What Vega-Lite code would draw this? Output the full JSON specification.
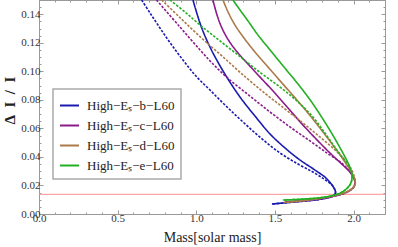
{
  "$schema": "https://vega.github.io/schema/vega-lite/v6.json",
  "width": 346,
  "height": 214,
  "autosize": {"type": "none"},
  "padding": {"left": 39, "top": 0, "right": 13, "bottom": 33},
  "background": "white",
  "config": {
    "view": {"stroke": "#999", "strokeWidth": 1},
    "font": "Liberation Serif",
    "axis": {"labelOverlap": false}
  },
  "datasets": {
    "curves": [
        {"s":"b","t":"s","i":1,"x":0.979,"y":0.1500},
        {"s":"b","t":"s","i":2,"x":1.030,"y":0.1318},
        {"s":"b","t":"s","i":3,"x":1.093,"y":0.1157},
        {"s":"b","t":"s","i":4,"x":1.182,"y":0.0981},
        {"s":"b","t":"s","i":5,"x":1.278,"y":0.0820},
        {"s":"b","t":"s","i":6,"x":1.373,"y":0.0687},
        {"s":"b","t":"s","i":7,"x":1.469,"y":0.0561},
        {"s":"b","t":"s","i":8,"x":1.564,"y":0.0463},
        {"s":"b","t":"s","i":9,"x":1.659,"y":0.0379},
        {"s":"b","t":"s","i":10,"x":1.755,"y":0.0308},
        {"s":"b","t":"s","i":11,"x":1.825,"y":0.0252},
        {"s":"b","t":"s","i":12,"x":1.863,"y":0.0203},
        {"s":"b","t":"s","i":13,"x":1.882,"y":0.0168},
        {"s":"b","t":"s","i":14,"x":1.885,"y":0.0147},
        {"s":"b","t":"s","i":15,"x":1.869,"y":0.0126},
        {"s":"b","t":"s","i":16,"x":1.786,"y":0.0103},
        {"s":"b","t":"s","i":17,"x":1.659,"y":0.0088},
        {"s":"b","t":"s","i":18,"x":1.481,"y":0.0070},

        {"s":"b","t":"d","i":1,"x":0.653,"y":0.1500},
        {"s":"b","t":"d","i":2,"x":0.706,"y":0.1409},
        {"s":"b","t":"d","i":3,"x":0.769,"y":0.1304},
        {"s":"b","t":"d","i":4,"x":0.839,"y":0.1192},
        {"s":"b","t":"d","i":5,"x":0.915,"y":0.1080},
        {"s":"b","t":"d","i":6,"x":0.998,"y":0.0967},
        {"s":"b","t":"d","i":7,"x":1.087,"y":0.0869},
        {"s":"b","t":"d","i":8,"x":1.189,"y":0.0757},
        {"s":"b","t":"d","i":9,"x":1.297,"y":0.0645},
        {"s":"b","t":"d","i":10,"x":1.411,"y":0.0533},
        {"s":"b","t":"d","i":11,"x":1.532,"y":0.0428},
        {"s":"b","t":"d","i":12,"x":1.647,"y":0.0350},
        {"s":"b","t":"d","i":13,"x":1.742,"y":0.0294},
        {"s":"b","t":"d","i":14,"x":1.812,"y":0.0245},
        {"s":"b","t":"d","i":15,"x":1.863,"y":0.0203},
        {"s":"b","t":"d","i":16,"x":1.882,"y":0.0168},
        {"s":"b","t":"d","i":17,"x":1.885,"y":0.0147},
        {"s":"b","t":"d","i":18,"x":1.869,"y":0.0126},
        {"s":"b","t":"d","i":19,"x":1.786,"y":0.0103},
        {"s":"b","t":"d","i":20,"x":1.659,"y":0.0088},
        {"s":"b","t":"d","i":21,"x":1.481,"y":0.0070},

        {"s":"c","t":"s","i":1,"x":1.106,"y":0.1500},
        {"s":"c","t":"s","i":2,"x":1.132,"y":0.1395},
        {"s":"c","t":"s","i":3,"x":1.163,"y":0.1304},
        {"s":"c","t":"s","i":4,"x":1.208,"y":0.1213},
        {"s":"c","t":"s","i":5,"x":1.265,"y":0.1129},
        {"s":"c","t":"s","i":6,"x":1.335,"y":0.1044},
        {"s":"c","t":"s","i":7,"x":1.411,"y":0.0953},
        {"s":"c","t":"s","i":8,"x":1.494,"y":0.0855},
        {"s":"c","t":"s","i":9,"x":1.583,"y":0.0743},
        {"s":"c","t":"s","i":10,"x":1.678,"y":0.0624},
        {"s":"c","t":"s","i":11,"x":1.774,"y":0.0512},
        {"s":"c","t":"s","i":12,"x":1.863,"y":0.0414},
        {"s":"c","t":"s","i":13,"x":1.932,"y":0.0343},
        {"s":"c","t":"s","i":14,"x":1.977,"y":0.0294},
        {"s":"c","t":"s","i":15,"x":2.002,"y":0.0252},
        {"s":"c","t":"s","i":16,"x":2.009,"y":0.0217},
        {"s":"c","t":"s","i":17,"x":1.996,"y":0.0182},
        {"s":"c","t":"s","i":18,"x":1.945,"y":0.0147},
        {"s":"c","t":"s","i":19,"x":1.850,"y":0.0119},
        {"s":"c","t":"s","i":20,"x":1.723,"y":0.0098},
        {"s":"c","t":"s","i":21,"x":1.564,"y":0.0084},

        {"s":"c","t":"d","i":1,"x":0.747,"y":0.1500},
        {"s":"c","t":"d","i":2,"x":0.896,"y":0.1311},
        {"s":"c","t":"d","i":3,"x":1.024,"y":0.1150},
        {"s":"c","t":"d","i":4,"x":1.119,"y":0.1037},
        {"s":"c","t":"d","i":5,"x":1.214,"y":0.0939},
        {"s":"c","t":"d","i":6,"x":1.341,"y":0.0827},
        {"s":"c","t":"d","i":7,"x":1.469,"y":0.0715},
        {"s":"c","t":"d","i":8,"x":1.596,"y":0.0610},
        {"s":"c","t":"d","i":9,"x":1.723,"y":0.0512},
        {"s":"c","t":"d","i":10,"x":1.830,"y":0.0428},
        {"s":"c","t":"d","i":11,"x":1.932,"y":0.0350},
        {"s":"c","t":"d","i":12,"x":1.977,"y":0.0294},
        {"s":"c","t":"d","i":13,"x":2.002,"y":0.0252},
        {"s":"c","t":"d","i":14,"x":2.009,"y":0.0217},
        {"s":"c","t":"d","i":15,"x":1.996,"y":0.0182},
        {"s":"c","t":"d","i":16,"x":1.945,"y":0.0147},
        {"s":"c","t":"d","i":17,"x":1.850,"y":0.0119},
        {"s":"c","t":"d","i":18,"x":1.723,"y":0.0098},
        {"s":"c","t":"d","i":19,"x":1.564,"y":0.0084},

        {"s":"d","t":"s","i":1,"x":1.170,"y":0.1500},
        {"s":"d","t":"s","i":2,"x":1.202,"y":0.1416},
        {"s":"d","t":"s","i":3,"x":1.246,"y":0.1325},
        {"s":"d","t":"s","i":4,"x":1.303,"y":0.1234},
        {"s":"d","t":"s","i":5,"x":1.373,"y":0.1136},
        {"s":"d","t":"s","i":6,"x":1.456,"y":0.1030},
        {"s":"d","t":"s","i":7,"x":1.545,"y":0.0918},
        {"s":"d","t":"s","i":8,"x":1.640,"y":0.0799},
        {"s":"d","t":"s","i":9,"x":1.736,"y":0.0673},
        {"s":"d","t":"s","i":10,"x":1.825,"y":0.0547},
        {"s":"d","t":"s","i":11,"x":1.901,"y":0.0435},
        {"s":"d","t":"s","i":12,"x":1.958,"y":0.0343},
        {"s":"d","t":"s","i":13,"x":1.990,"y":0.0287},
        {"s":"d","t":"s","i":14,"x":2.009,"y":0.0238},
        {"s":"d","t":"s","i":15,"x":2.009,"y":0.0203},
        {"s":"d","t":"s","i":16,"x":1.983,"y":0.0172},
        {"s":"d","t":"s","i":17,"x":1.932,"y":0.0144},
        {"s":"d","t":"s","i":18,"x":1.786,"y":0.0109},
        {"s":"d","t":"s","i":19,"x":1.659,"y":0.0091},
        {"s":"d","t":"s","i":20,"x":1.558,"y":0.0081},

        {"s":"d","t":"d","i":1,"x":0.780,"y":0.1500},
        {"s":"d","t":"d","i":2,"x":0.896,"y":0.1377},
        {"s":"d","t":"d","i":3,"x":1.024,"y":0.1243},
        {"s":"d","t":"d","i":4,"x":1.170,"y":0.1101},
        {"s":"d","t":"d","i":5,"x":1.320,"y":0.0953},
        {"s":"d","t":"d","i":6,"x":1.443,"y":0.0841},
        {"s":"d","t":"d","i":7,"x":1.564,"y":0.0736},
        {"s":"d","t":"d","i":8,"x":1.678,"y":0.0638},
        {"s":"d","t":"d","i":9,"x":1.786,"y":0.0540},
        {"s":"d","t":"d","i":10,"x":1.882,"y":0.0449},
        {"s":"d","t":"d","i":11,"x":1.945,"y":0.0379},
        {"s":"d","t":"d","i":12,"x":1.983,"y":0.0322},
        {"s":"d","t":"d","i":13,"x":2.005,"y":0.0262},
        {"s":"d","t":"d","i":14,"x":2.009,"y":0.0238},
        {"s":"d","t":"d","i":15,"x":2.009,"y":0.0203},
        {"s":"d","t":"d","i":16,"x":1.983,"y":0.0172},
        {"s":"d","t":"d","i":17,"x":1.932,"y":0.0144},
        {"s":"d","t":"d","i":18,"x":1.786,"y":0.0109},
        {"s":"d","t":"d","i":19,"x":1.659,"y":0.0091},
        {"s":"d","t":"d","i":20,"x":1.558,"y":0.0081},

        {"s":"e","t":"s","i":1,"x":1.233,"y":0.1500},
        {"s":"e","t":"s","i":2,"x":1.278,"y":0.1430},
        {"s":"e","t":"s","i":3,"x":1.329,"y":0.1353},
        {"s":"e","t":"s","i":4,"x":1.392,"y":0.1255},
        {"s":"e","t":"s","i":5,"x":1.469,"y":0.1150},
        {"s":"e","t":"s","i":6,"x":1.558,"y":0.1030},
        {"s":"e","t":"s","i":7,"x":1.647,"y":0.0911},
        {"s":"e","t":"s","i":8,"x":1.729,"y":0.0792},
        {"s":"e","t":"s","i":9,"x":1.805,"y":0.0666},
        {"s":"e","t":"s","i":10,"x":1.875,"y":0.0540},
        {"s":"e","t":"s","i":11,"x":1.932,"y":0.0428},
        {"s":"e","t":"s","i":12,"x":1.971,"y":0.0343},
        {"s":"e","t":"s","i":13,"x":1.990,"y":0.0273},
        {"s":"e","t":"s","i":14,"x":1.983,"y":0.0217},
        {"s":"e","t":"s","i":15,"x":1.951,"y":0.0172},
        {"s":"e","t":"s","i":16,"x":1.901,"y":0.0140},
        {"s":"e","t":"s","i":17,"x":1.818,"y":0.0119},
        {"s":"e","t":"s","i":18,"x":1.691,"y":0.0105},
        {"s":"e","t":"s","i":19,"x":1.551,"y":0.0098},

        {"s":"e","t":"d","i":1,"x":0.833,"y":0.1500},
        {"s":"e","t":"d","i":2,"x":0.928,"y":0.1416},
        {"s":"e","t":"d","i":3,"x":1.024,"y":0.1325},
        {"s":"e","t":"d","i":4,"x":1.151,"y":0.1213},
        {"s":"e","t":"d","i":5,"x":1.289,"y":0.1094},
        {"s":"e","t":"d","i":6,"x":1.411,"y":0.0988},
        {"s":"e","t":"d","i":7,"x":1.532,"y":0.0890},
        {"s":"e","t":"d","i":8,"x":1.640,"y":0.0792},
        {"s":"e","t":"d","i":9,"x":1.736,"y":0.0687},
        {"s":"e","t":"d","i":10,"x":1.818,"y":0.0568},
        {"s":"e","t":"d","i":11,"x":1.875,"y":0.0477},
        {"s":"e","t":"d","i":12,"x":1.932,"y":0.0393},
        {"s":"e","t":"d","i":13,"x":1.971,"y":0.0336},
        {"s":"e","t":"d","i":14,"x":1.990,"y":0.0273},
        {"s":"e","t":"d","i":15,"x":1.983,"y":0.0217},
        {"s":"e","t":"d","i":16,"x":1.951,"y":0.0172},
        {"s":"e","t":"d","i":17,"x":1.901,"y":0.0140},
        {"s":"e","t":"d","i":18,"x":1.818,"y":0.0119},
        {"s":"e","t":"d","i":19,"x":1.691,"y":0.0105},
        {"s":"e","t":"d","i":20,"x":1.551,"y":0.0098}
    ]
  },
  "resolve": {"axis": {"x": "independent", "y": "independent"}},
  "layer": [
    {
      "data": {"values": [{"v": 0.0138}]},
      "mark": {"type": "rule", "color": "#ff8f8f", "strokeWidth": 1},
      "encoding": {"y": {"field": "v", "type": "quantitative", "axis": null, "scale": {"domain": [0, 0.15], "nice": false, "zero": false}}}
    },
    {
      "data": {"name": "curves"},
      "mark": {"type": "line", "strokeWidth": 1.6, "clip": true, "interpolate": "catmull-rom"},
      "encoding": {
        "x": {
          "field": "x", "type": "quantitative",
          "scale": {"domain": [0, 2.2], "nice": false, "zero": false},
          "axis": {
            "orient": "bottom",
            "title": "Mass[solar mass]",
            "values": [0,0.1,0.2,0.3,0.4,0.5,0.6,0.7,0.8,0.9,1.0,1.1,1.2,1.3,1.4,1.5,1.6,1.7,1.8,1.9,2.0,2.1,2.2],
            "labelExpr": "abs(datum.value*2-round(datum.value*2))<1e-6 ? format(datum.value,'.1f') : ''",
            "labelFontSize": {"condition": {"test": "abs(datum.value*2-round(datum.value*2))<1e-6", "value": 11}, "value": 0},
            "tickSize": {"condition": {"test": "abs(datum.value*2-round(datum.value*2))<1e-6", "value": -4}, "value": -2},
            "tickColor": "#999",
            "domain": false,
            "grid": false,
            "labelFlush": false,
            "labelOverlap": false,
            "labelPadding": 2,
            "labelFont": "Liberation Serif",
            "labelColor": "#333",
            "titleFont": "Liberation Serif",
            "titleFontSize": 14,
            "titleFontWeight": "normal",
            "titleColor": "#222",
            "titlePadding": 7
          }
        },
        "y": {
          "field": "y", "type": "quantitative",
          "scale": {"domain": [0, 0.15], "nice": false, "zero": false},
          "axis": {
            "orient": "left",
            "title": "\u0394\u2002I\u2002/\u2002I",
            "titleX": -22,
            "titleY": 100,
            "values": [0,0.005,0.01,0.015,0.02,0.025,0.03,0.035,0.04,0.045,0.05,0.055,0.06,0.065,0.07,0.075,0.08,0.085,0.09,0.095,0.1,0.105,0.11,0.115,0.12,0.125,0.13,0.135,0.14,0.145,0.15],
            "labelExpr": "abs(datum.value*50-round(datum.value*50))<1e-6 ? format(datum.value,'.2f') : ''",
            "labelFontSize": {"condition": {"test": "abs(datum.value*50-round(datum.value*50))<1e-6", "value": 11}, "value": 0},
            "tickSize": {"condition": {"test": "abs(datum.value*50-round(datum.value*50))<1e-6", "value": -4}, "value": -2},
            "tickColor": "#999",
            "domain": false,
            "grid": false,
            "labelFlush": false,
            "labelOverlap": false,
            "labelPadding": 3,
            "labelFont": "Liberation Serif",
            "labelColor": "#333",
            "titleFont": "Liberation Serif",
            "titleFontSize": 15,
            "titleFontWeight": "bold",
            "titleColor": "#222"
          }
        },
        "color": {
          "field": "s", "type": "nominal",
          "scale": {"domain": ["b","c","d","e"], "range": ["#1a1ab0", "#8b1a8b", "#ab7a4a", "#22b022"]},
          "legend": {
            "title": null,
            "orient": "none",
            "legendX": 14,
            "legendY": 89,
            "labelExpr": "'High\u2212E\u209b\u2212' + datum.label + '\u2212L60\u00a0\u00a0\u00a0\u00a0\u00a0\u00a0\u00a0\u00a0\u00a0'",
            "symbolType": "stroke",
            "symbolSize": 361,
            "symbolStrokeWidth": 2,
            "labelFont": "Liberation Serif",
            "labelFontSize": 13,
            "labelColor": "#222",
            "labelOffset": 7,
            "rowPadding": 2,
            "padding": 6,
            "strokeColor": "#aaa",
            "fillColor": "white",
            "encode": {"legend": {"update": {"strokeWidth": {"value": 1.5}}}}
          }
        },
        "strokeDash": {
          "field": "t", "type": "nominal",
          "scale": {"domain": ["s","d"], "range": [[1,0],[2.5,1.5]]},
          "legend": null
        },
        "order": {"field": "i", "type": "quantitative"}
      }
    },
    {
      "data": {"name": "curves"},
      "mark": {"type": "line", "opacity": 0, "clip": true},
      "encoding": {
        "x": {
          "field": "x", "type": "quantitative",
          "scale": {"domain": [0, 2.2], "nice": false, "zero": false},
          "axis": {
            "orient": "top",
            "title": null,
            "labels": false,
            "values": [0,0.1,0.2,0.3,0.4,0.5,0.6,0.7,0.8,0.9,1.0,1.1,1.2,1.3,1.4,1.5,1.6,1.7,1.8,1.9,2.0,2.1,2.2],
            "tickSize": {"condition": {"test": "abs(datum.value*2-round(datum.value*2))<1e-6", "value": -4}, "value": -2},
            "tickColor": "#999",
            "domain": false,
            "grid": false
          }
        },
        "y": {
          "field": "y", "type": "quantitative",
          "scale": {"domain": [0, 0.15], "nice": false, "zero": false},
          "axis": {
            "orient": "right",
            "title": null,
            "labels": false,
            "values": [0,0.005,0.01,0.015,0.02,0.025,0.03,0.035,0.04,0.045,0.05,0.055,0.06,0.065,0.07,0.075,0.08,0.085,0.09,0.095,0.1,0.105,0.11,0.115,0.12,0.125,0.13,0.135,0.14,0.145,0.15],
            "tickSize": {"condition": {"test": "abs(datum.value*50-round(datum.value*50))<1e-6", "value": -4}, "value": -2},
            "tickColor": "#999",
            "domain": false,
            "grid": false
          }
        },
        "detail": {"field": "s", "type": "nominal"},
        "strokeDash": {"field": "t", "type": "nominal", "legend": null},
        "order": {"field": "i", "type": "quantitative"}
      }
    }
  ]
}
